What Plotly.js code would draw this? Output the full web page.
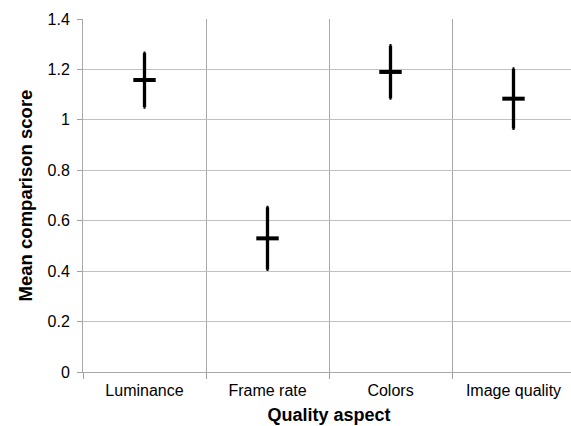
<!DOCTYPE html>
<html>
<head>
<meta charset="utf-8">
<script src="https://cdn.plot.ly/plotly-3.0.1.min.js"></script>
<style>
html, body { margin: 0; padding: 0; overflow: hidden; background: #fff; }
#chart { width: 575px; height: 426px; }
</style>
</head>
<body>
<div id="chart"></div>
<script>
const categories = ["Luminance", "Frame rate", "Colors", "Image quality"];
const meanScores = [1.158, 0.53, 1.19, 1.084];
const errors = [0.107, 0.123, 0.104, 0.118];
const yTickValues = [0, 0.2, 0.4, 0.6, 0.8, 1, 1.2, 1.4];
const yTickLabels = ["0", "0.2", "0.4", "0.6", "0.8", "1", "1.2", "1.4"];

const trace = {
  type: "scatter",
  mode: "markers",
  x: categories,
  y: meanScores,
  marker: {
    symbol: "line-ew",
    size: 16,
    color: "#000",
    line: { color: "#000", width: 4 }
  },
  error_y: {
    type: "data",
    array: errors,
    visible: true,
    color: "#000",
    thickness: 3.3,
    width: 1
  },
  hoverinfo: "none",
  showlegend: false
};

const font = "Liberation Sans, Arial, sans-serif";

const layout = {
  width: 575,
  height: 426,
  margin: { l: 83, r: 0, t: 19, b: 54 },
  paper_bgcolor: "#fff",
  plot_bgcolor: "#fff",
  font: { family: font, color: "#000" },
  xaxis: {
    type: "category",
    range: [-0.5, 3.5],
    tickson: "boundaries",
    ticks: "outside",
    ticklen: 6,
    tickwidth: 1,
    tickcolor: "#a0a0a0",
    showgrid: true,
    gridcolor: "#a8a8a8",
    gridwidth: 1,
    showline: true,
    linecolor: "#a8a8a8",
    linewidth: 1,
    zeroline: false,
    tickfont: { family: font, size: 16, color: "#000" },
    ticklabelstandoff: 4,
    title: { text: "Quality aspect", font: { family: font, size: 18, color: "#000", weight: "bold" }, standoff: 10 }
  },
  yaxis: {
    range: [0, 1.4],
    tickvals: yTickValues,
    ticktext: yTickLabels,
    ticks: "outside",
    ticklen: 5,
    tickwidth: 1,
    tickcolor: "#a0a0a0",
    showgrid: true,
    gridcolor: "#c0c0c0",
    gridwidth: 1,
    showline: true,
    linecolor: "#a8a8a8",
    linewidth: 1,
    zeroline: false,
    tickfont: { family: font, size: 16, color: "#000" },
    ticklabelstandoff: 4,
    title: { text: "Mean comparison score", font: { family: font, size: 18.5, color: "#000", weight: "bold" }, standoff: 10 }
  }
};

Plotly.newPlot("chart", [trace], layout, { displayModeBar: false, staticPlot: true });
</script>
</body>
</html>
